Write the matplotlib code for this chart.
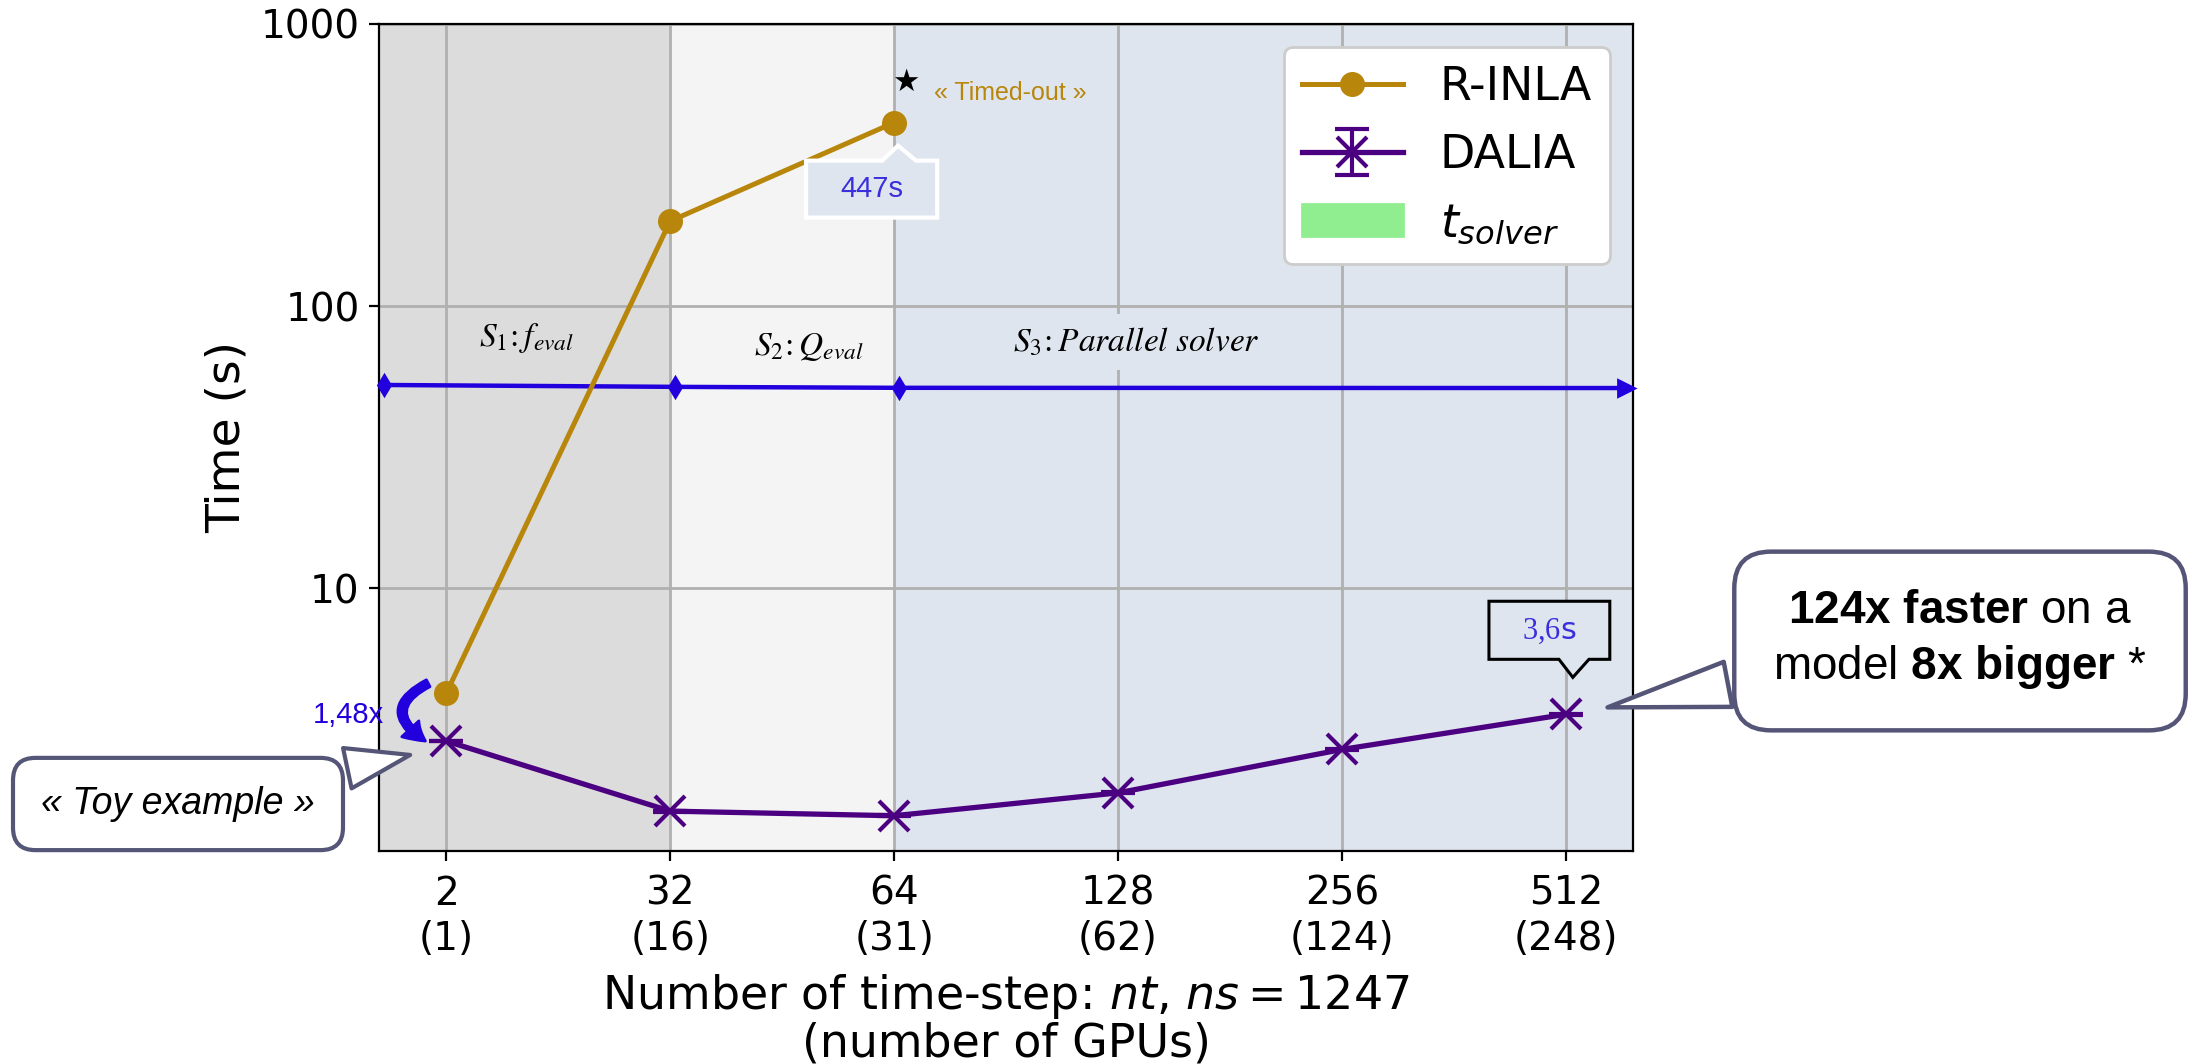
import matplotlib
matplotlib.use("Agg")
import matplotlib.pyplot as plt
from matplotlib.patches import Patch, Polygon
from matplotlib.ticker import FixedLocator, NullLocator
from matplotlib.transforms import offset_copy, Affine2D, ScaledTranslation

# ---- data ----
nt_labels = ["2\n(1)", "32\n(16)", "64\n(31)", "128\n(62)", "256\n(124)", "512\n(248)"]
rinla_time = [4.24, 200.0, 447.0]          # R-INLA only runs up to nt=64
dalia_time = [2.87, 1.62, 1.56, 1.88, 2.68, 3.57]
dalia_err = [0.008, 0.008, 0.008, 0.008, 0.008, 0.008]

# stage timeline (S1 / S2 / S3) drawn across the plot
stage_x = [-0.28, 1.02, 2.02, 5.27]
stage_y = [52.5, 51.7, 51.3, 51.2]
stage_span = [(-0.3, 1), (1, 2), (2, 5.3)]
stage_names = [r"$S_1\!:f_{eval}$", r"$S_2\!:Q_{eval}$", r"$S_3\!:Parallel\ solver$"]
stage_label_x = [0.36, 1.62, 3.08]
stage_label_y = [77, 72, 74.5]

# colours
c_rinla = "#b8860b"
c_dalia = "#4b0082"
c_stage = "#2200dd"
c_text_blue = "#3a2fdd"
span_colors = ["#dcdcdc", "#f4f4f4", "#dfe5ee"]

plt.rcParams["mathtext.fontset"] = "dejavusans"
plt.rcParams["mathtext.rm"] = "Liberation Sans"
plt.rcParams["mathtext.it"] = "Liberation Sans:italic"
plt.rcParams["mathtext.bf"] = "Liberation Sans:bold"

fig = plt.figure(figsize=(10.975, 5.32), dpi=200)
ax = fig.add_axes([0.1727, 0.2002, 0.5713, 0.7773])

x = list(range(len(nt_labels)))


def pts_around(xd, yd):
    # transform: vertices given in points, origin at a data point
    return Affine2D().scale(fig.dpi / 72.0) + ScaledTranslation(xd, yd, ax.transData)


def callout(xd, yd, left, right, bottom, top, base_l, base_r, tip, fc, ec, lw, pointer_up):
    # rectangular box with a triangular pointer, all in points relative to (xd, yd)
    if pointer_up:
        verts = [(left, top), (base_l, top), tip, (base_r, top), (right, top),
                 (right, bottom), (left, bottom)]
    else:
        verts = [(left, bottom), (base_l, bottom), tip, (base_r, bottom), (right, bottom),
                 (right, top), (left, top)]
    poly = Polygon(verts, closed=True, fc=fc, ec=ec, lw=lw, transform=pts_around(xd, yd),
                   zorder=5, clip_on=False, joinstyle="miter")
    ax.add_patch(poly)


# background stage shading
for (a, b), col in zip(stage_span, span_colors):
    ax.axvspan(a, b, color=col, zorder=0, lw=0)

# timeline of the stages
ax.plot(stage_x[:3], stage_y[:3], ls="none", marker="d", ms=5, color=c_stage, zorder=3, clip_on=False)
ax.plot(stage_x, stage_y, color=c_stage, lw=1.6, zorder=3)
ax.plot(stage_x[-1:], stage_y[-1:], marker=">", ms=6, color=c_stage, zorder=3, clip_on=False)

for sx, sy, name, i in zip(stage_label_x, stage_label_y, stage_names, range(3)):
    kw = {}
    if i == 2:
        kw["bbox"] = dict(boxstyle="square,pad=0.35", fc=span_colors[2], ec="none")
    ax.text(sx, sy, name, ha="center", va="center", fontsize=12, math_fontfamily="stix", zorder=2, **kw)

# series
rinla_line, = ax.plot(x[:len(rinla_time)], rinla_time, color=c_rinla, marker="o", ms=8, lw=1.8,
                      label="R-INLA", zorder=4)
dalia = ax.errorbar(x, dalia_time, yerr=dalia_err, color=c_dalia, marker="x", ms=11, mew=1.5,
                    lw=1.9, capsize=6, elinewidth=1.5, capthick=1.5, label="DALIA", zorder=4)

# axes setup
ax.set_yscale("log")
ax.set_ylim(1.17, 1000)
ax.set_xlim(-0.3, 5.3)
ax.yaxis.set_major_locator(FixedLocator([10, 100, 1000]))
ax.yaxis.set_minor_locator(NullLocator())
ax.set_yticklabels(["10", "100", "1000"])
ax.set_xticks(x)
ax.set_xticklabels(nt_labels, linespacing=1.25)
ax.tick_params(labelsize=14)
ax.tick_params(axis="x", pad=5)
ax.grid(True, color="#b0b0b0", lw=1.0)
ax.set_axisbelow(True)
ax.set_ylabel("Time (s)", fontsize=17)
ax.set_xlabel("Number of time-step: $nt$, $ns = 1247$\n(number of GPUs)", fontsize=16.5,
              labelpad=5, linespacing=1.02)

# legend
handles = [rinla_line, dalia, Patch(color="lightgreen")]
ax.legend(handles, ["R-INLA", "DALIA", r"$t_{solver}$"], loc="upper right", fontsize=16.5,
          framealpha=1, handlelength=2.2)

# timed-out marker for R-INLA
ax.annotate("\u2605", xy=(2, rinla_time[2]), xytext=(4.3, 14.4), textcoords="offset points",
            ha="center", va="center", fontsize=11, color="k")
ax.annotate("\u00ab Timed-out \u00bb", xy=(2, rinla_time[2]), xytext=(14.4, 10.8), textcoords="offset points",
            ha="left", va="center", fontsize=9, color=c_rinla, family="Liberation Sans")

# 447s callout (pointer up to the last R-INLA point)
callout(2, rinla_time[2], -31.7, 15.5, -34.2, -13.7, -4.3, 7.9, (1.4, -8.3),
        span_colors[2], "white", 1.5, pointer_up=True)
ax.annotate("447s", xy=(2, rinla_time[2]), xytext=(-8.1, -24), textcoords="offset points",
            ha="center", va="center", fontsize=10.5, color=c_text_blue, family="Liberation Sans", zorder=6)

# 3,6s callout (pointer down to the last DALIA point)
callout(5, dalia_time[5], -27.7, 15.8, 19.8, 40.7, -2.5, 8.3, (2.5, 13.3),
        span_colors[2], "black", 1.1, pointer_up=False)
ax.annotate(r"3,6$\mathsf{s}$", xy=(5, dalia_time[5]), xytext=(-6, 30), textcoords="offset points",
            ha="center", va="center", fontsize=11, color=c_text_blue, family="Liberation Serif", zorder=6)

# 1.48x speed-up arrow between the two first points
head_tr = offset_copy(ax.transData, fig=fig, x=-7.5, y=0, units="points")
tail_tr = offset_copy(ax.transData, fig=fig, x=-6.5, y=3.6, units="points")
ax.annotate("", xy=(0, dalia_time[0]), xycoords=head_tr, xytext=(0, rinla_time[0]), textcoords=tail_tr,
            arrowprops=dict(arrowstyle="simple,head_length=0.5,head_width=0.6,tail_width=0.2",
                            connectionstyle="arc3,rad=0.85", fc=c_stage, ec=c_stage,
                            mutation_scale=14, shrinkA=0, shrinkB=0), zorder=6)
ax.text(-0.28, 3.55, "1,48x", ha="right", va="center", fontsize=10.5, color=c_stage,
        family="Liberation Sans")

# callouts outside the axes
ax.annotate("\u00ab Toy example \u00bb", xy=(0, dalia_time[0]),
            xycoords=offset_copy(ax.transData, fig=fig, x=-13, y=-5, units="points"),
            xytext=(178, 260), textcoords="figure pixels", ha="center", va="center",
            fontsize=13.5, style="italic", family="Liberation Sans",
            bbox=dict(boxstyle="round,pad=0.75,rounding_size=0.6", fc="white", ec="#555577", lw=1.5),
            arrowprops=dict(arrowstyle="wedge,tail_width=1.1,shrink_factor=0.5", fc="white",
                            ec="#555577", lw=1.5, shrinkB=0), annotation_clip=False, zorder=7)

ax.annotate(r"$\mathbf{124x\ faster}$ on a" + "\n" + r"model $\mathbf{8x\ bigger}$ *",
            xy=(5, dalia_time[5]), xycoords=offset_copy(ax.transData, fig=fig, x=15, y=2.5, units="points"),
            xytext=(1960, 424), textcoords="figure pixels", ha="center", va="center",
            multialignment="center", fontsize=16.5, family="Liberation Sans", math_fontfamily="custom",
            linespacing=1.3,
            bbox=dict(boxstyle="round,pad=0.85,rounding_size=0.8", fc="white", ec="#555577", lw=1.6),
            arrowprops=dict(arrowstyle="wedge,tail_width=1.0,shrink_factor=0.5", fc="white",
                            ec="#555577", lw=1.6, shrinkB=0), annotation_clip=False, zorder=7)

fig.savefig("out.png", dpi=200)
